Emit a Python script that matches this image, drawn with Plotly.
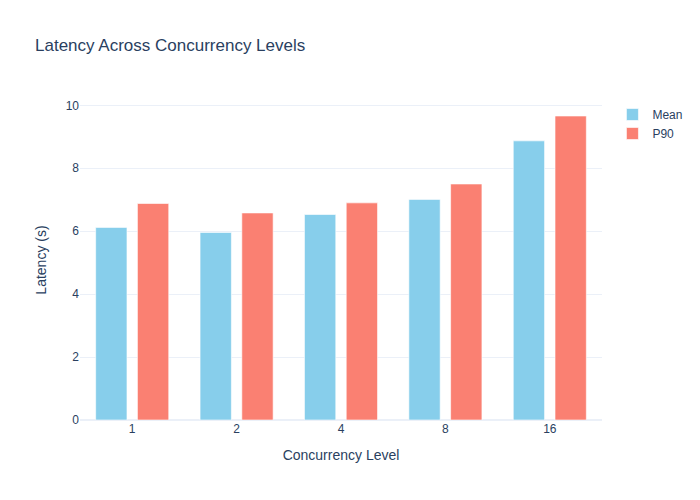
import plotly.graph_objects as go

concurrency = ["1", "2", "4", "8", "16"]
mean_latency = [6.12, 5.96, 6.53, 7.01, 8.87]
p90_latency = [6.88, 6.58, 6.90, 7.50, 9.66]

fig = go.Figure()
fig.add_trace(go.Bar(x=concurrency, y=mean_latency, name="Mean",
                     marker=dict(color="skyblue", line=dict(color="rgba(255,255,255,0.6)", width=1))))
fig.add_trace(go.Bar(x=concurrency, y=p90_latency, name="P90",
                     marker=dict(color="salmon", line=dict(color="rgba(255,255,255,0.6)", width=1))))
fig.update_layout(
    template="plotly_white",
    font=dict(family="Arial"),
    title=dict(text="Latency Across Concurrency Levels", x=27/700, xanchor="left",
               y=1 - 37/500, yanchor="middle"),
    xaxis=dict(title=dict(text="Concurrency Level"), type="category"),
    yaxis=dict(title=dict(text="Latency (s)")),
    barmode="group",
    bargap=0.2,
    bargroupgap=0.25,
    width=700, height=500,
    margin=dict(l=72, r=106, t=92, b=88),
)
fig.write_html("out.html")
